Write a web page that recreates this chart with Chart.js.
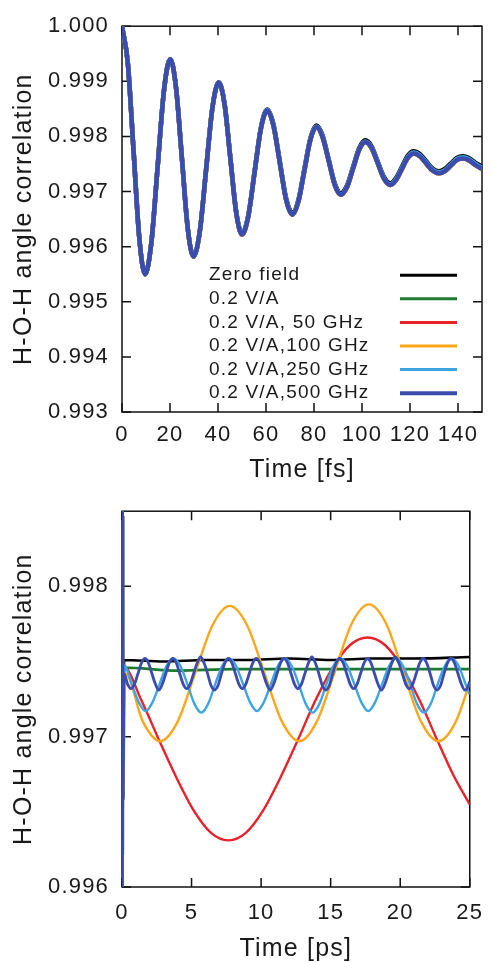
<!DOCTYPE html>
<html lang="en">
<head>
<meta charset="UTF-8">
<title>H-O-H angle correlation</title>
<script src="https://cdn.jsdelivr.net/npm/chart.js"></script>
<style>
  body { margin: 0; background: #fff; }
  canvas { position: absolute; left: 0; }
  #fsChart { top: 0; }
  #psChart { top: 485px; }
</style>
</head>
<body>
<canvas id="fsChart" width="495" height="485"></canvas>
<canvas id="psChart" width="495" height="477"></canvas>
<script>
const seriesLabels = ['Zero field', '0.2 V/A', '0.2 V/A, 50 GHz', '0.2 V/A,100 GHz', '0.2 V/A,250 GHz', '0.2 V/A,500 GHz'];
const seriesColors = ['#000000', '#1d7a30', '#e8212b', '#fca61a', '#3ea4e2', '#3a4cae'];

// top panel, time in fs
const fsTime = [0, 2.4, 4.8, 7.2, 9.6, 12.225, 14.85, 17.475, 20.1, 22.525, 24.95, 27.375, 29.8, 32.425, 35.05,
  37.675, 40.3, 42.725, 45.15, 47.575, 50.0, 52.625, 55.25, 57.875, 60.5, 63.125, 65.75, 68.375, 71.0, 73.5,
  76.0, 78.5, 81.0, 83.55, 86.1, 88.65, 91.2, 93.75, 96.3, 98.85, 101.4, 104.0, 106.6, 109.2, 111.8, 114.225,
  116.65, 119.075, 121.5, 124.125, 126.75, 129.375, 132.0, 134.5, 137.0, 139.5, 142.0, 144.5, 147.0, 150.0];
// the field runs lie on top of each other here
const fsField = [1.00000,
  0.99934, 0.99775, 0.99616, 0.99550, 0.99607, 0.99745, 0.99883, 0.99940,
  0.99888, 0.99761, 0.99634, 0.99582, 0.99628, 0.99740, 0.99852, 0.99898,
  0.99858, 0.99760, 0.99662, 0.99622, 0.99655, 0.99735, 0.99814, 0.99847,
  0.99819, 0.99752, 0.99685, 0.99658, 0.99682, 0.99738, 0.99794, 0.99817,
  0.99799, 0.99756, 0.99712, 0.99694, 0.99708, 0.99742, 0.99776, 0.99790,
  0.99779, 0.99751, 0.99723, 0.99712, 0.99721, 0.99741, 0.99761, 0.99769,
  0.99764, 0.99751, 0.99738, 0.99733, 0.99737, 0.99747, 0.99757, 0.99760,
  0.99757, 0.99749, 0.99741];
const fsZero = [1.00000,
  0.99934, 0.99775, 0.99616, 0.99550, 0.99607, 0.99745, 0.99883, 0.99940,
  0.99888, 0.99761, 0.99634, 0.99582, 0.99628, 0.99740, 0.99852, 0.99898,
  0.99860, 0.99762, 0.99664, 0.99624, 0.99657, 0.99737, 0.99816, 0.99849,
  0.99822, 0.99755, 0.99688, 0.99661, 0.99685, 0.99741, 0.99797, 0.99820,
  0.99802, 0.99759, 0.99715, 0.99697, 0.99711, 0.99745, 0.99779, 0.99793,
  0.99782, 0.99754, 0.99726, 0.99715, 0.99725, 0.99745, 0.99765, 0.99773,
  0.99768, 0.99755, 0.99742, 0.99737, 0.99741, 0.99751, 0.99761, 0.99764,
  0.99761, 0.99753, 0.99745];
const fs250 = [1.00000,
  0.99934, 0.99775, 0.99616, 0.99550, 0.99607, 0.99745, 0.99883, 0.99940,
  0.99888, 0.99761, 0.99634, 0.99582, 0.99628, 0.99740, 0.99852, 0.99898,
  0.99859, 0.99761, 0.99663, 0.99623, 0.99656, 0.99736, 0.99815, 0.99848,
  0.99820, 0.99753, 0.99686, 0.99659, 0.99683, 0.99739, 0.99795, 0.99818,
  0.99800, 0.99757, 0.99713, 0.99695, 0.99709, 0.99743, 0.99777, 0.99791,
  0.99780, 0.99752, 0.99724, 0.99713, 0.99723, 0.99743, 0.99763, 0.99771,
  0.99766, 0.99753, 0.99740, 0.99735, 0.99739, 0.99749, 0.99759, 0.99762,
  0.99759, 0.99751, 0.99743];
const fsXTicks = [0, 20, 40, 60, 80, 100, 120, 140];
const fsYTicks = [0.993, 0.994, 0.995, 0.996, 0.997, 0.998, 0.999, 1.000];

// bottom panel, time in ps; every run starts with the fs ringing
const psStartT = [0, 0.0096, 0.0201, 0.0298, 0.0403, 0.05, 0.0605, 0.071];
const psStartV = [1.0, 0.9955, 0.9994, 0.99582, 0.99898, 0.99622, 0.99847, 0.99658];

const zeroT = [0.15, 3, 6, 9, 12, 15, 18, 21, 25];
const zeroV = [0.99751, 0.99750, 0.99751, 0.99751, 0.99752, 0.99751, 0.99752, 0.99752, 0.99753];
const staticT = [0.15, 4, 8, 12, 16, 20, 25];
const staticV = [0.99746, 0.99744, 0.99745, 0.99745, 0.99745, 0.99745, 0.99745];
const ghz50T = [0.15, 1.4, 2.65, 3.9, 5.15, 6.4, 7.65, 8.9, 10.15, 11.4, 12.65, 13.9, 15.15, 16.4, 17.65, 18.9,
  20.15, 21.4, 22.65, 23.9, 25.0];
const ghz50V = [0.99746, 0.99724, 0.99698, 0.99673, 0.99651, 0.99636, 0.99631, 0.99636,
  0.99651, 0.99673, 0.99698, 0.99724, 0.99746, 0.99761, 0.99766, 0.99761,
  0.99746, 0.99724, 0.99698, 0.99673, 0.99655];
const ghz100T = [0.25, 1.5, 2.75, 4.0, 5.25, 6.5, 7.75, 9.0, 10.25, 11.5, 12.75, 14.0, 15.25, 16.5, 17.75, 19.0,
  20.25, 21.5, 22.75, 24.0, 25.0];
const ghz100V = [0.99742, 0.99710, 0.99697, 0.99710, 0.99742, 0.99774, 0.99787, 0.99774,
  0.99742, 0.99710, 0.99697, 0.99710, 0.99742, 0.99775, 0.99788, 0.99775,
  0.99742, 0.99710, 0.99697, 0.99710, 0.99736];
const ghz250T = [0.15,
  0.7, 1.2, 1.7, 2.2, 2.7, 3.2, 3.7, 4.2,
  4.7, 5.2, 5.7, 6.2, 6.7, 7.2, 7.7, 8.2,
  8.7, 9.2, 9.7, 10.2, 10.7, 11.2, 11.7, 12.2,
  12.7, 13.2, 13.7, 14.2, 14.7, 15.2, 15.7, 16.2,
  16.7, 17.2, 17.7, 18.2, 18.7, 19.2, 19.7, 20.2,
  20.7, 21.2, 21.7, 22.2, 22.7, 23.2, 23.7, 24.2,
  24.7, 25.0];
const ghz250V = [0.99748,
  0.99735, 0.99723, 0.99717, 0.99723, 0.99735, 0.99747, 0.99752, 0.99747,
  0.99735, 0.99722, 0.99716, 0.99722, 0.99735, 0.99747, 0.99752, 0.99747,
  0.99735, 0.99723, 0.99717, 0.99723, 0.99735, 0.99747, 0.99752, 0.99747,
  0.99735, 0.99722, 0.99716, 0.99722, 0.99735, 0.99747, 0.99752, 0.99747,
  0.99735, 0.99723, 0.99717, 0.99723, 0.99735, 0.99747, 0.99752, 0.99747,
  0.99735, 0.99722, 0.99716, 0.99722, 0.99735, 0.99747, 0.99752, 0.99747,
  0.99735, 0.99728];
const ghz500T = [
  0.15, 0.4, 0.65, 0.9, 1.15, 1.4, 1.65, 1.9,
  2.15, 2.4, 2.65, 2.9, 3.15, 3.4, 3.65, 3.9,
  4.15, 4.4, 4.65, 4.9, 5.15, 5.4, 5.65, 5.9,
  6.15, 6.4, 6.65, 6.9, 7.15, 7.4, 7.65, 7.9,
  8.15, 8.4, 8.65, 8.9, 9.15, 9.4, 9.65, 9.9,
  10.15, 10.4, 10.65, 10.9, 11.15, 11.4, 11.65, 11.9,
  12.15, 12.4, 12.65, 12.9, 13.15, 13.4, 13.65, 13.9,
  14.15, 14.4, 14.65, 14.9, 15.15, 15.4, 15.65, 15.9,
  16.15, 16.4, 16.65, 16.9, 17.15, 17.4, 17.65, 17.9,
  18.15, 18.4, 18.65, 18.9, 19.15, 19.4, 19.65, 19.9,
  20.15, 20.4, 20.65, 20.9, 21.15, 21.4, 21.65, 21.9,
  22.15, 22.4, 22.65, 22.9, 23.15, 23.4, 23.65, 23.9,
  24.15, 24.4, 24.65, 24.9, 25.0];
const ghz500V = [
  0.99742, 0.99735, 0.99732, 0.99735, 0.99742, 0.99749, 0.99752, 0.99749,
  0.99742, 0.99735, 0.99731, 0.99735, 0.99742, 0.99749, 0.99752, 0.99749,
  0.99742, 0.99735, 0.99732, 0.99735, 0.99742, 0.99749, 0.99753, 0.99749,
  0.99742, 0.99734, 0.99731, 0.99734, 0.99742, 0.99749, 0.99752, 0.99749,
  0.99742, 0.99735, 0.99732, 0.99735, 0.99742, 0.99749, 0.99752, 0.99749,
  0.99742, 0.99735, 0.99731, 0.99735, 0.99742, 0.99749, 0.99752, 0.99749,
  0.99742, 0.99735, 0.99732, 0.99735, 0.99742, 0.99749, 0.99753, 0.99749,
  0.99742, 0.99734, 0.99731, 0.99734, 0.99742, 0.99749, 0.99752, 0.99749,
  0.99742, 0.99735, 0.99732, 0.99735, 0.99742, 0.99749, 0.99752, 0.99749,
  0.99742, 0.99735, 0.99731, 0.99735, 0.99742, 0.99749, 0.99753, 0.99749,
  0.99742, 0.99735, 0.99732, 0.99735, 0.99742, 0.99749, 0.99752, 0.99749,
  0.99742, 0.99734, 0.99731, 0.99734, 0.99742, 0.99749, 0.99752, 0.99749,
  0.99742, 0.99735, 0.99731, 0.99734, 0.99737];
const psXTicks = [0, 5, 10, 15, 20, 25];
const psYTicks = [0.996, 0.997, 0.998];

const FONT = "'Liberation Sans', Arial, sans-serif";
const TEXT = '#1a1a1a';

function pts(t, v) { return t.map((x, i) => ({ x: x, y: v[i] })); }

// the printed figure has slightly spread lettering
const spacing = {
  id: 'spacing',
  beforeDraw(chart) { chart.ctx.letterSpacing = '1.2px'; }
};

// gnuplot style box with ticks pointing inward on all four sides
const frame = {
  id: 'frame',
  beforeDatasetsDraw(chart) {
    const { ctx, chartArea: a, scales: { x, y } } = chart;
    ctx.save();
    ctx.strokeStyle = '#111';
    ctx.lineWidth = 1.5;
    ctx.strokeRect(a.left, a.top, a.right - a.left, a.bottom - a.top);
    ctx.beginPath();
    x.ticks.forEach(t => {
      const px = x.getPixelForValue(t.value);
      ctx.moveTo(px, a.bottom); ctx.lineTo(px, a.bottom - 9);
      ctx.moveTo(px, a.top); ctx.lineTo(px, a.top + 9);
    });
    y.ticks.forEach(t => {
      const py = y.getPixelForValue(t.value);
      ctx.moveTo(a.left, py); ctx.lineTo(a.left + 9, py);
      ctx.moveTo(a.right, py); ctx.lineTo(a.right - 9, py);
    });
    ctx.stroke();
    ctx.restore();
  }
};

// legend inside the top panel, text left and line sample right
const keyBox = {
  id: 'keyBox',
  afterDatasetsDraw(chart) {
    const { ctx, chartArea: a } = chart;
    ctx.save();
    ctx.font = '19px ' + FONT;
    ctx.fillStyle = TEXT;
    ctx.textBaseline = 'middle';
    seriesLabels.forEach((lab, i) => {
      const yy = a.top + 249 + i * 23.6;
      ctx.fillText(lab, a.left + 87, yy);
      ctx.strokeStyle = seriesColors[i];
      ctx.lineWidth = i === 5 ? 4 : 3;
      ctx.beginPath();
      ctx.moveTo(a.left + 278, yy);
      ctx.lineTo(a.left + 335, yy);
      ctx.stroke();
    });
    ctx.restore();
  }
};

function makeScales(o) {
  return {
    x: {
      type: 'linear', min: o.xMin, max: o.xMax,
      grid: { display: false, drawTicks: false }, border: { display: false },
      afterBuildTicks: s => { s.ticks = o.xTicks.map(v => ({ value: v })); },
      afterFit: s => { s.height = o.xHeight; },
      ticks: { autoSkip: false, maxRotation: 0, padding: o.xPad, color: TEXT, font: { family: FONT, size: 22 } },
      title: { display: true, text: o.xTitle, color: TEXT, font: { family: FONT, size: 25 }, padding: { top: 0, bottom: o.xTitlePad } }
    },
    y: {
      type: 'linear', min: o.yMin, max: o.yMax,
      grid: { display: false, drawTicks: false }, border: { display: false },
      afterBuildTicks: s => { s.ticks = o.yTicks.map(v => ({ value: v })); },
      afterFit: s => { s.width = 122; },
      ticks: { padding: 13, color: TEXT, font: { family: FONT, size: 22 }, callback: v => v.toFixed(3) },
      title: { display: true, text: 'H-O-H angle correlation', color: TEXT, font: { family: FONT, size: 25 }, padding: { top: 9, bottom: 0 } }
    }
  };
}

const fsRuns = [fsZero, fsField, fsField, fsField, fs250, fsField];
new Chart(document.getElementById('fsChart'), {
  type: 'line',
  data: {
    datasets: fsRuns.map((v, i) => ({
      label: seriesLabels[i], data: pts(fsTime, v),
      borderColor: seriesColors[i], borderWidth: 4.5, pointRadius: 0,
      cubicInterpolationMode: 'monotone', order: 6 - i
    }))
  },
  options: {
    responsive: false, animation: false,
    layout: { padding: { top: 23, right: 13, left: 0, bottom: 0 } },
    plugins: { legend: { display: false }, tooltip: { enabled: false } },
    scales: makeScales({ xMin: 0, xMax: 150, xTicks: fsXTicks, xHeight: 73, xPad: 10, xTitle: 'Time [fs]', xTitlePad: 0,
      yMin: 0.993, yMax: 1.000, yTicks: fsYTicks })
  },
  plugins: [spacing, frame, keyBox]
});

const psRuns = [[zeroT, zeroV], [staticT, staticV], [ghz50T, ghz50V], [ghz100T, ghz100V], [ghz250T, ghz250V], [ghz500T, ghz500V]];
new Chart(document.getElementById('psChart'), {
  type: 'line',
  data: {
    datasets: psRuns.map((r, i) => ({
      label: seriesLabels[i], data: pts(psStartT.concat(r[0]), psStartV.concat(r[1])),
      borderColor: seriesColors[i], borderWidth: i === 5 ? 2.8 : (i < 2 ? 2.7 : 2.4), pointRadius: 0,
      cubicInterpolationMode: 'monotone', order: 6 - i
    }))
  },
  options: {
    responsive: false, animation: false,
    layout: { padding: { top: 13, right: 13, left: 0, bottom: 0 } },
    plugins: { legend: { display: false }, tooltip: { enabled: false } },
    scales: makeScales({ xMin: 0, xMax: 25, xTicks: psXTicks, xHeight: 75, xPad: 13, xTitle: 'Time [ps]', xTitlePad: -2,
      yMin: 0.996, yMax: 0.9985, yTicks: psYTicks })
  },
  plugins: [spacing, frame]
});
</script>
</body>
</html>
